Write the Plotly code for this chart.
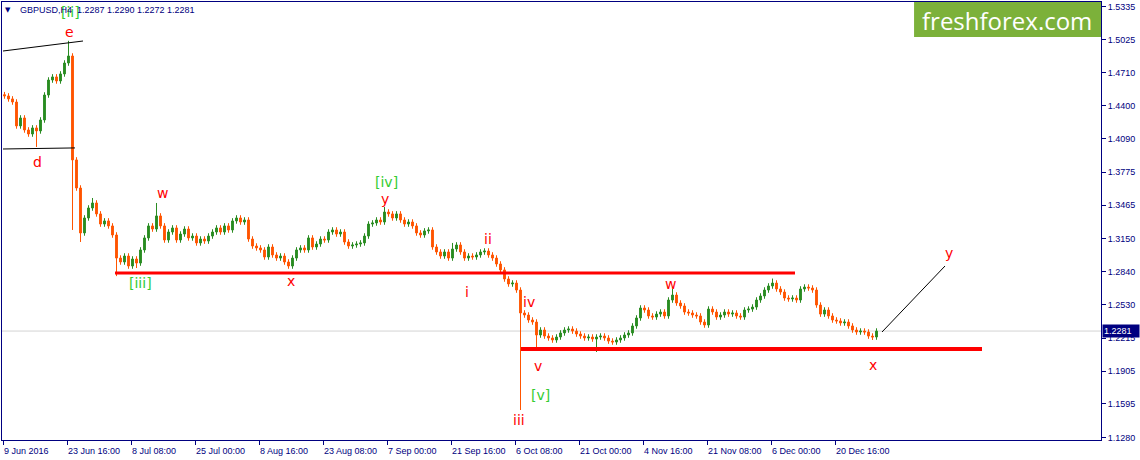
import plotly.graph_objects as go

# ---------------- data ----------------
TIME_LABELS = ["9 Jun 2016", "23 Jun 16:00", "8 Jul 08:00", "25 Jul 00:00", "8 Aug 16:00",
               "23 Aug 08:00", "7 Sep 00:00", "21 Sep 16:00", "6 Oct 08:00", "21 Oct 00:00",
               "4 Nov 16:00", "21 Nov 08:00", "6 Dec 00:00", "20 Dec 16:00"]
BARS_PER_LABEL = 64          # H4 bars between time labels
BARS_PER_CANDLE = 4          # each drawn candle groups 4 H4 bars

PRICE_TICKS = [1.5335, 1.5025, 1.4710, 1.4400, 1.4090, 1.3775, 1.3465, 1.3150,
               1.2840, 1.2530, 1.2215, 1.1905, 1.1595, 1.1280]

FIRST_OPEN = 1.4505
CLOSES = [
    1.4493, 1.4465, 1.4436, 1.4211, 1.4286, 1.4173, 1.4135, 1.4192, 1.4164, 1.4267,
    1.4502, 1.4643, 1.4672, 1.4634, 1.4700, 1.4803, 1.4869, 1.3891, 1.3627, 1.3204,
    1.3345, 1.3439, 1.3486, 1.3383, 1.3288, 1.3317, 1.3270, 1.3185, 1.2968, 1.2931,
    1.2987, 1.2893, 1.2959, 1.2921, 1.3044, 1.3157, 1.3270, 1.3241, 1.3364, 1.3270,
    1.3138, 1.3213, 1.3251, 1.3138, 1.3194, 1.3241, 1.3157, 1.3175, 1.3110, 1.3147,
    1.3128, 1.3175, 1.3213, 1.3251, 1.3213, 1.3270, 1.3232, 1.3317, 1.3345, 1.3307,
    1.3326, 1.3147, 1.3081, 1.3063, 1.3044, 1.2978, 1.3072, 1.2997, 1.2968, 1.2987,
    1.2931, 1.2893, 1.2968, 1.3044, 1.3063, 1.3044, 1.3157, 1.3072, 1.3100, 1.3147,
    1.3138, 1.3213, 1.3232, 1.3194, 1.3213, 1.3119, 1.3081, 1.3091, 1.3100, 1.3110,
    1.3175, 1.3288, 1.3298, 1.3326, 1.3307, 1.3401, 1.3383, 1.3345, 1.3383, 1.3326,
    1.3288, 1.3307, 1.3270, 1.3204, 1.3185, 1.3223, 1.3232, 1.3072, 1.3025, 1.2987,
    1.3025, 1.2968, 1.3053, 1.3091, 1.3025, 1.2968, 1.2987, 1.2978, 1.2997, 1.3025,
    1.3034, 1.2997, 1.2968, 1.2912, 1.2856, 1.2771, 1.2724, 1.2733, 1.2667, 1.2451,
    1.2432, 1.2385, 1.2366, 1.2244, 1.2291, 1.2234, 1.2216, 1.2197, 1.2225, 1.2263,
    1.2291, 1.2300, 1.2281, 1.2253, 1.2234, 1.2216, 1.2225, 1.2206, 1.2225, 1.2234,
    1.2216, 1.2187, 1.2178, 1.2197, 1.2216, 1.2244, 1.2263, 1.2329, 1.2404, 1.2498,
    1.2479, 1.2423, 1.2413, 1.2441, 1.2460, 1.2423, 1.2573, 1.2620, 1.2545, 1.2517,
    1.2460, 1.2451, 1.2432, 1.2423, 1.2366, 1.2338, 1.2488, 1.2460, 1.2413, 1.2432,
    1.2460, 1.2441, 1.2451, 1.2423, 1.2413, 1.2479, 1.2488, 1.2507, 1.2573, 1.2611,
    1.2667, 1.2705, 1.2733, 1.2677, 1.2648, 1.2592, 1.2583, 1.2592, 1.2573, 1.2677,
    1.2695, 1.2686, 1.2667, 1.2526, 1.2441, 1.2479, 1.2423, 1.2385, 1.2376, 1.2357,
    1.2366, 1.2329, 1.2291, 1.2272, 1.2281, 1.2272, 1.2234, 1.2225, 1.2281,
]
SPIKE_HIGHS = {16: 1.5012, 22: 1.3533, 38: 1.3486, 95: 1.3448, 112: 1.3110,
               167: 1.2677, 192: 1.2775}
SPIKE_LOWS = {8: 1.4013, 17: 1.3232, 19: 1.3119, 28: 1.2798, 33: 1.2874, 71: 1.2874,
              129: 1.1538, 133: 1.2103, 148: 1.2084, 217: 1.2197}
WICK = 0.0026
LAST_PRICE = 1.2281
SYMBOL_TEXT = "GBPUSD,H4  1.2287 1.2290 1.2272 1.2281"

# wave labels: (text, bar, price, kind)
WAVE_LABELS = [
    ("[ii]", 67, 1.5283, "g"), ("e", 66, 1.5095, "r"), ("d", 34, 1.3872, "r"),
    ("w", 159, 1.3580, "r"), ("[iii]", 137, 1.2733, "g"), ("x", 288, 1.2752, "r"),
    ("[iv]", 383, 1.3684, "g"), ("y", 382, 1.3524, "r"), ("ii", 485, 1.3147, "r"),
    ("i", 464, 1.2649, "r"), ("iv", 526, 1.2555, "r"), ("v", 535, 1.1952, "r"),
    ("[v]", 537, 1.1679, "g"), ("iii", 516, 1.1444, "r"), ("w", 667, 1.2724, "r"),
    ("x", 870, 1.1962, "r"), ("y", 946, 1.3016, "r"),
]
# drawn objects: (bar0, price0, bar1, price1)
BLACK_LINES = [(0, 1.4916, 80, 1.5010), (0, 1.3994, 72, 1.4004), (879, 1.2272, 942, 1.2893)]
RED_LEVELS = [(112, 1.2827, 792, 3), (518, 1.2112, 979, 4)]  # (bar0, price, bar1, width)

# ---------------- styling ----------------
UP = "#2A8C22"
DOWN = "#FF5500"
NAVY = "#000080"
RED_TXT = "#FF0000"
GREEN_TXT = "#33CC33"
AX_FONT = "Liberation Sans, Arial, sans-serif"

opens = [FIRST_OPEN] + CLOSES[:-1]
highs, lows = [], []
for i, (o, c) in enumerate(zip(opens, CLOSES)):
    h = max(o, c) + WICK
    l = min(o, c) - WICK
    if i in SPIKE_HIGHS:
        h = max(h, SPIKE_HIGHS[i])
    if i in SPIKE_LOWS:
        l = min(l, SPIKE_LOWS[i])
    highs.append(h)
    lows.append(l)
xs = [BARS_PER_CANDLE * i + 1.5 for i in range(len(CLOSES))]

fig = go.Figure()
fig.add_trace(go.Candlestick(
    x=xs, open=opens, high=highs, low=lows, close=CLOSES,
    increasing=dict(line=dict(color=UP, width=1), fillcolor=UP),
    decreasing=dict(line=dict(color=DOWN, width=1), fillcolor=DOWN),
    whiskerwidth=0, showlegend=False, hoverinfo="skip",
))

shapes = []
# current price line
shapes.append(dict(type="line", xref="paper", yref="y", x0=0, x1=1, y0=LAST_PRICE, y1=LAST_PRICE,
                   line=dict(color="#D3D3D3", width=1), layer="below"))
for b0, p, b1, w in RED_LEVELS:
    shapes.append(dict(type="line", xref="x", yref="y", x0=b0, x1=b1, y0=p, y1=p,
                       line=dict(color="#FF0000", width=w)))
for b0, p0, b1, p1 in BLACK_LINES:
    shapes.append(dict(type="line", xref="x", yref="y", x0=b0, x1=b1, y0=p0, y1=p1,
                       line=dict(color="#000000", width=1)))
# logo block
shapes.append(dict(type="rect", xref="paper", yref="paper", x0=0.8299, x1=1.0, y0=0.9201, y1=1.0,
                   fillcolor="#7CB13A", line=dict(width=0), layer="above"))

annotations = []
for txt, b, p, kind in WAVE_LABELS:
    annotations.append(dict(x=b, y=p, xref="x", yref="y", text=txt, showarrow=False,
                            font=dict(family="DejaVu Sans, Verdana, sans-serif", size=14,
                                      color=GREEN_TXT if kind == "g" else RED_TXT),
                            xanchor="center", yanchor="middle"))
# time labels, left aligned at their tick
for k, lab in enumerate(TIME_LABELS):
    annotations.append(dict(x=k * BARS_PER_LABEL, y=-0.0251, xref="x", yref="paper", text=lab,
                            showarrow=False, xanchor="left", yanchor="middle", xshift=-1,
                            font=dict(family=AX_FONT, size=9, color=NAVY)))
# header
annotations.append(dict(x=0.0146, y=0.9817, xref="paper", yref="paper", text=SYMBOL_TEXT,
                        showarrow=False, xanchor="left", yanchor="middle",
                        font=dict(family=AX_FONT, size=9, color=NAVY)))
annotations.append(dict(x=0.0055, y=0.9817, xref="paper", yref="paper", text="▼",
                        showarrow=False, xanchor="center", yanchor="middle",
                        font=dict(family="DejaVu Sans", size=7, color=NAVY)))
# logo text
annotations.append(dict(x=0.9145, y=0.9589, xref="paper", yref="paper", text="freshforex.com",
                        showarrow=False, xanchor="center", yanchor="middle",
                        font=dict(family="Open Sans, sans-serif", size=24, color="#FFFFFF")))
# current price box
annotations.append(dict(x=1, y=LAST_PRICE, xref="paper", yref="y", text="1.2281",
                        showarrow=False, xanchor="left", yanchor="middle", xshift=1,
                        bgcolor=NAVY, borderpad=1, width=34, align="left",
                        font=dict(family=AX_FONT, size=9, color="#FFFFFF")))

n_ticks = len(TIME_LABELS)
fig.update_layout(
    width=1140, height=460,
    margin=dict(l=2, r=39, t=2, b=20),
    paper_bgcolor="white", plot_bgcolor="white",
    boxgap=0.35,
    shapes=shapes, annotations=annotations,
    xaxis=dict(range=[-1, 1098], rangeslider=dict(visible=False), showgrid=False, zeroline=False,
               tickvals=[k * BARS_PER_LABEL for k in range(n_ticks)], showticklabels=False,
               ticks="outside", ticklen=4, tickcolor=NAVY, showline=True, linecolor=NAVY,
               linewidth=1, mirror=True, fixedrange=True),
    yaxis=dict(range=[1.1256, 1.5377], side="right", showgrid=False, zeroline=False,
               tickvals=PRICE_TICKS, ticktext=[f"{v:.4f}" for v in PRICE_TICKS],
               ticks="outside", ticklen=4, tickcolor=NAVY, showline=True, linecolor=NAVY,
               linewidth=1, mirror=True, tickfont=dict(family=AX_FONT, size=9, color=NAVY),
               fixedrange=True),
)

fig.write_html("out.html", config={"displayModeBar": False},
               post_script="document.body.style.margin='0px';document.body.style.overflow='hidden';")
